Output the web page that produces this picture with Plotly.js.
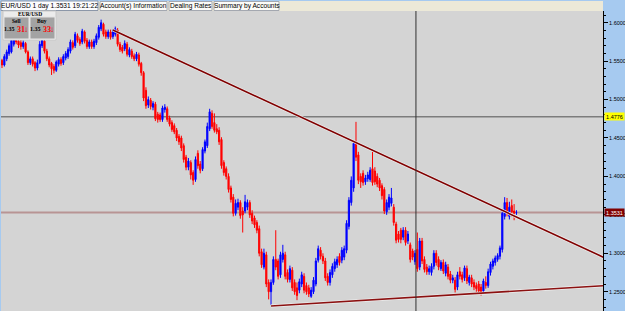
<!DOCTYPE html>
<html><head><meta charset="utf-8">
<script src="https://cdn.plot.ly/plotly-3.0.1.min.js"></script>
<style>html,body{margin:0;padding:0;background:#a6caf0;overflow:hidden}</style>
</head><body><div id="chart" style="width:625px;height:311px"></div>
<script>
// ---- data (EUR/USD daily bars) ----
const openP = [
1.551,1.545,1.553,1.560,1.562,1.572,1.582,1.576,1.574,1.569,
1.573,1.562,1.548,1.553,1.548,1.541,1.548,1.570,1.576,1.563,
1.553,1.547,1.543,1.538,1.546,1.552,1.548,1.554,1.556,1.563,
1.574,1.570,1.583,1.578,1.575,1.588,1.577,1.569,1.575,1.569,
1.574,1.581,1.592,1.598,1.588,1.582,1.588,1.582,1.585,1.590,
1.572,1.568,1.566,1.572,1.558,1.563,1.557,1.553,1.558,1.547,
1.535,1.512,1.493,1.499,1.490,1.494,1.481,1.480,1.474,1.487,
1.488,1.476,1.470,1.466,1.460,1.452,1.450,1.440,1.425,1.412,
1.418,1.405,1.396,1.430,1.416,1.410,1.433,1.440,1.462,1.482,
1.470,1.462,1.460,1.448,1.418,1.410,1.400,1.385,1.373,1.352,
1.360,1.366,1.355,1.355,1.360,1.366,1.352,1.346,1.340,1.332,
1.302,1.282,1.298,1.262,1.250,1.262,1.292,1.290,1.272,1.292,
1.298,1.275,1.266,1.278,1.262,1.255,1.252,1.260,1.270,1.258,
1.255,1.244,1.250,1.260,1.291,1.304,1.296,1.290,1.270,1.262,
1.272,1.280,1.285,1.296,1.291,1.295,1.304,1.335,1.366,1.385,
1.445,1.428,1.400,1.404,1.393,1.397,1.396,1.410,1.407,1.400,
1.395,1.388,1.383,1.354,1.360,1.365,1.360,1.338,1.325,1.330,
1.321,1.330,1.316,1.311,1.303,1.289,1.305,1.282,1.316,1.292,
1.282,1.276,1.275,1.283,1.300,1.292,1.280,1.288,1.274,1.282,
1.273,1.265,1.265,1.256,1.276,1.272,1.268,1.280,1.262,1.268,
1.262,1.258,1.260,1.256,1.251,1.262,1.258,1.275,1.283,1.288,
1.292,1.296,1.305,1.348,1.366,1.348,1.362,1.355,1.353];
const highP = [
1.553,1.559,1.565,1.573,1.582,1.588,1.586,1.580,1.578,1.577,
1.575,1.564,1.556,1.556,1.550,1.552,1.576,1.582,1.579,1.566,
1.556,1.549,1.546,1.551,1.555,1.555,1.559,1.563,1.568,1.578,
1.577,1.588,1.586,1.581,1.592,1.590,1.580,1.578,1.578,1.579,
1.586,1.597,1.604,1.600,1.591,1.591,1.591,1.591,1.595,1.593,
1.575,1.571,1.577,1.575,1.568,1.566,1.560,1.562,1.561,1.549,
1.537,1.516,1.504,1.502,1.498,1.497,1.484,1.483,1.492,1.494,
1.491,1.479,1.473,1.469,1.463,1.455,1.453,1.443,1.428,1.424,
1.421,1.408,1.426,1.434,1.420,1.438,1.448,1.470,1.488,1.486,
1.482,1.468,1.464,1.451,1.421,1.413,1.404,1.388,1.377,1.370,
1.371,1.369,1.360,1.376,1.370,1.369,1.356,1.349,1.343,1.336,
1.306,1.306,1.302,1.266,1.266,1.296,1.330,1.293,1.302,1.311,
1.302,1.279,1.284,1.282,1.266,1.262,1.267,1.276,1.274,1.262,
1.259,1.256,1.269,1.294,1.310,1.308,1.300,1.294,1.274,1.279,
1.287,1.293,1.296,1.300,1.308,1.310,1.343,1.373,1.400,1.447,
1.471,1.432,1.404,1.408,1.402,1.406,1.412,1.432,1.412,1.404,
1.398,1.391,1.386,1.370,1.377,1.385,1.364,1.341,1.329,1.333,
1.334,1.334,1.329,1.314,1.306,1.304,1.327,1.320,1.320,1.296,
1.286,1.284,1.287,1.304,1.304,1.296,1.291,1.292,1.289,1.286,
1.277,1.272,1.269,1.276,1.282,1.276,1.284,1.284,1.272,1.272,
1.266,1.262,1.264,1.260,1.267,1.270,1.280,1.289,1.293,1.297,
1.300,1.310,1.356,1.373,1.372,1.367,1.370,1.364,1.356];
const lowP = [
1.541,1.543,1.550,1.557,1.560,1.569,1.572,1.567,1.565,1.566,
1.560,1.545,1.545,1.543,1.537,1.538,1.546,1.567,1.560,1.550,
1.542,1.532,1.534,1.536,1.543,1.544,1.545,1.551,1.553,1.560,
1.565,1.567,1.574,1.570,1.572,1.573,1.566,1.566,1.566,1.566,
1.571,1.578,1.589,1.582,1.579,1.579,1.578,1.579,1.582,1.569,
1.562,1.560,1.563,1.556,1.555,1.553,1.550,1.550,1.543,1.531,
1.498,1.488,1.489,1.487,1.486,1.472,1.470,1.471,1.471,1.483,
1.471,1.465,1.458,1.455,1.446,1.441,1.433,1.418,1.408,1.408,
1.396,1.389,1.393,1.410,1.404,1.407,1.430,1.437,1.459,1.462,
1.457,1.455,1.441,1.410,1.401,1.396,1.379,1.366,1.348,1.349,
1.356,1.345,1.327,1.352,1.356,1.346,1.338,1.333,1.326,1.296,
1.281,1.279,1.256,1.240,1.233,1.259,1.278,1.266,1.268,1.288,
1.266,1.262,1.262,1.251,1.246,1.239,1.248,1.256,1.248,1.246,
1.243,1.242,1.247,1.257,1.288,1.292,1.286,1.264,1.258,1.258,
1.268,1.276,1.281,1.284,1.287,1.291,1.300,1.331,1.362,1.380,
1.420,1.390,1.385,1.388,1.389,1.393,1.393,1.388,1.389,1.386,
1.381,1.370,1.351,1.350,1.356,1.361,1.336,1.313,1.314,1.313,
1.317,1.310,1.312,1.288,1.291,1.285,1.276,1.278,1.286,1.275,
1.272,1.272,1.271,1.279,1.284,1.278,1.277,1.273,1.270,1.266,
1.261,1.261,1.249,1.252,1.266,1.262,1.264,1.260,1.258,1.256,
1.252,1.250,1.247,1.245,1.248,1.254,1.255,1.271,1.279,1.284,
1.289,1.292,1.301,1.344,1.348,1.344,1.348,1.343,1.350];
const closeP = [
1.545,1.556,1.562,1.570,1.577,1.582,1.575,1.571,1.569,1.574,
1.562,1.548,1.553,1.546,1.541,1.548,1.572,1.578,1.563,1.553,
1.545,1.540,1.538,1.549,1.552,1.547,1.556,1.560,1.565,1.575,
1.568,1.585,1.577,1.573,1.589,1.576,1.569,1.575,1.569,1.576,
1.583,1.594,1.600,1.585,1.582,1.588,1.581,1.588,1.592,1.572,
1.565,1.563,1.573,1.559,1.565,1.556,1.553,1.559,1.546,1.535,
1.502,1.492,1.500,1.491,1.495,1.475,1.474,1.474,1.489,1.490,
1.474,1.468,1.461,1.458,1.450,1.445,1.437,1.422,1.412,1.420,
1.402,1.395,1.422,1.414,1.408,1.435,1.445,1.465,1.484,1.465,
1.460,1.458,1.445,1.414,1.405,1.400,1.383,1.370,1.352,1.365,
1.366,1.349,1.350,1.367,1.366,1.350,1.342,1.337,1.330,1.300,
1.285,1.300,1.260,1.250,1.262,1.292,1.282,1.270,1.298,1.300,
1.270,1.266,1.280,1.255,1.250,1.245,1.263,1.272,1.252,1.250,
1.247,1.252,1.265,1.290,1.306,1.296,1.290,1.268,1.262,1.275,
1.283,1.289,1.292,1.288,1.304,1.306,1.339,1.369,1.395,1.443,
1.425,1.395,1.393,1.392,1.398,1.402,1.408,1.392,1.393,1.390,
1.385,1.375,1.355,1.366,1.373,1.372,1.340,1.317,1.318,1.318,
1.330,1.314,1.325,1.292,1.295,1.300,1.280,1.316,1.290,1.279,
1.276,1.280,1.283,1.300,1.288,1.282,1.288,1.277,1.285,1.270,
1.265,1.268,1.253,1.272,1.270,1.266,1.281,1.264,1.269,1.260,
1.256,1.254,1.251,1.250,1.264,1.258,1.276,1.286,1.290,1.294,
1.297,1.307,1.352,1.366,1.352,1.360,1.354,1.352,1.3531];
const yTickVals = [1.25,1.30,1.35,1.40,1.45,1.50,1.55,1.60];
const yTickText = ['1.2500','1.3000','1.3500','1.4000','1.4500','1.5000','1.5500','1.6000'];
const levelMarked = 1.4776;
const lastPrice = 1.3531;
const cursorBar = 175.4;
const downTrend = {x:[47,150], y:[1.5905,1.444]};
const upTrend = {x:[114,203], y:[1.2315,1.2481]};
const tabLabels = ['EUR/USD 1 day 1.3531 19:21:22','Account(s) Information','Dealing Rates','Summary by Accounts'];
const widgetTitle = 'EUR/USD';
const sideLabels = ['Sell','Buy'];
const quoteBig = ['1.35','1.35'];
const quotePips = ['31','33'];

// ---- layout helpers ----
const W = 625, H = 311, ML = 1, MR = 22, MT = 11, MB = 0;
const PW = W - ML - MR, PH = H - MT - MB;
const px = v => (v - ML) / PW;
const py = v => 1 - (v - MT) / PH;
const xRange = [-0.42, -0.42 + PW / 2.36];
const yRange = [1.2249, 1.61522];
const barIndex = openP.map((_, i) => i);

function extendLine(t) {
  const s = (t.y[1] - t.y[0]) / (t.x[1] - t.x[0]);
  const xe = xRange[1] + 3;
  return {x: [t.x[0], xe], y: [t.y[0], t.y[0] + s * (xe - t.x[0])]};
}
const dl = extendLine(downTrend), ul = extendLine(upTrend);

const traces = [
  {type:'candlestick', x:barIndex, open:openP, high:highP, low:lowP, close:closeP,
   increasing:{line:{color:'#0000ff', width:1}, fillcolor:'#0000ff'},
   decreasing:{line:{color:'#ff0000', width:1}, fillcolor:'#ff0000'},
   whiskerwidth:0, hoverinfo:'skip', showlegend:false},
  {type:'scatter', mode:'lines', x:dl.x, y:dl.y, line:{color:'#eeeeee', width:3}, hoverinfo:'skip', showlegend:false},
  {type:'scatter', mode:'lines', x:dl.x, y:dl.y, line:{color:'#800000', width:1.6}, hoverinfo:'skip', showlegend:false},
  {type:'scatter', mode:'lines', x:ul.x, y:ul.y, line:{color:'#eeeeee', width:3}, hoverinfo:'skip', showlegend:false},
  {type:'scatter', mode:'lines', x:ul.x, y:ul.y, line:{color:'#8b1010', width:1.6}, hoverinfo:'skip', showlegend:false}
];

const shapes = [
  {type:'line', xref:'paper', yref:'y', x0:0, x1:1, y0:levelMarked, y1:levelMarked, line:{color:'#7c7c7c', width:1.5}, layer:'below'},
  {type:'line', xref:'paper', yref:'y', x0:0, x1:1, y0:lastPrice, y1:lastPrice, line:{color:'#b89494', width:2}, layer:'below'},
  {type:'line', xref:'x', yref:'paper', x0:cursorBar, x1:cursorBar, y0:0, y1:1, line:{color:'#303030', width:1}},
  // top strip and tabs
  {type:'rect', xref:'paper', yref:'paper', x0:px(1), x1:px(603), y0:py(11), y1:py(1), fillcolor:'#ece9d8', line:{width:0}},
  {type:'rect', xref:'paper', yref:'paper', x0:px(1), x1:px(98), y0:py(10.5), y1:py(1), fillcolor:'#fcfcfe', line:{color:'#8c97a8', width:1}},
  {type:'rect', xref:'paper', yref:'paper', x0:px(100), x1:px(167), y0:py(10.5), y1:py(1.5), fillcolor:'#fcfcf8', line:{color:'#a4a8b0', width:1}},
  {type:'rect', xref:'paper', yref:'paper', x0:px(169), x1:px(212), y0:py(10.5), y1:py(1.5), fillcolor:'#fcfcf8', line:{color:'#a4a8b0', width:1}},
  {type:'rect', xref:'paper', yref:'paper', x0:px(214), x1:px(279), y0:py(10.5), y1:py(1.5), fillcolor:'#fcfcf8', line:{color:'#a4a8b0', width:1}},
  // quote widget
  {type:'rect', xref:'paper', yref:'paper', x0:px(3), x1:px(56), y0:py(40), y1:py(11), fillcolor:'#ececec', line:{color:'#c8c8c8', width:1}},
  {type:'rect', xref:'paper', yref:'paper', x0:px(4), x1:px(29), y0:py(39), y1:py(17), fillcolor:'#a3a3a3', line:{color:'#e4e4e4', width:1}},
  {type:'rect', xref:'paper', yref:'paper', x0:px(30), x1:px(55), y0:py(39), y1:py(17), fillcolor:'#a3a3a3', line:{color:'#e4e4e4', width:1}}
];

const tabCenters = [49, 133.5, 190.5, 246.5];
const annotations = [];
function note(x, y, text, font, xa) {
  annotations.push({xref:'paper', yref:'paper', x:px(x), y:py(y), text:text, showarrow:false,
    xanchor:xa || 'center', yanchor:'middle', borderpad:0, font:font});
}
const sans = 'Liberation Sans, Arial, sans-serif';
const serif = 'Liberation Serif, Times New Roman, serif';
tabLabels.forEach((t, i) => note(tabCenters[i], 6, t, {family:sans, size:6.6, color:'#000'}));
note(29.5, 14, '<b>' + widgetTitle + '</b>', {family:serif, size:5.5, color:'#000'});
const cellLeft = [4, 30];
[0, 1].forEach(k => {
  const c = cellLeft[k];
  note(c + 12.5, 21, '<b>' + sideLabels[k] + '</b>', {family:serif, size:5.5, color:'#000'});
  note(c + 11.5, 29.5, '<b>' + quoteBig[k] + '</b>', {family:serif, size:6, color:'#000'}, 'right');
  note(c + 11.5, 29, '<b>' + quotePips[k] + '</b>', {family:serif, size:8, color:'#ff0000'}, 'left');
  note(c + 22, 29.5, '↓', {family:sans, size:8, color:'#e00000'});
});
annotations.push(
  {xref:'paper', yref:'y', x:1, y:levelMarked, xanchor:'left', yanchor:'middle', xshift:1, text:levelMarked.toFixed(4), showarrow:false,
   bgcolor:'#ffff00', borderpad:0, width:19, height:7, font:{family:sans, size:5.5, color:'#000'}},
  {xref:'paper', yref:'y', x:1, y:lastPrice, xanchor:'left', yanchor:'middle', xshift:1, text:lastPrice.toFixed(4), showarrow:false,
   bgcolor:'#800000', borderpad:0, width:19, height:7, font:{family:sans, size:5.5, color:'#ffffff'}}
);

const layout = {
  width:W, height:H, margin:{l:ML, r:MR, t:MT, b:MB, pad:0},
  paper_bgcolor:'#a6caf0', plot_bgcolor:'#d4d4d4',
  showlegend:false, hovermode:false,
  xaxis:{range:xRange, visible:false, rangeslider:{visible:false}, fixedrange:true},
  yaxis:{range:yRange, side:'right', showgrid:false, zeroline:false, showline:true, linecolor:'#000', linewidth:1,
         tickvals:yTickVals, ticktext:yTickText, ticks:'outside', ticklen:4, tickcolor:'#000', tickwidth:1,
         tickfont:{family:sans, size:5.5, color:'#000'},
         minor:{dtick:0.01, tick0:1.2, ticks:'outside', ticklen:2, tickcolor:'#000'}, fixedrange:true},
  shapes:shapes, annotations:annotations
};
Plotly.newPlot('chart', traces, layout, {staticPlot:true, displayModeBar:false});
</script></body></html>
